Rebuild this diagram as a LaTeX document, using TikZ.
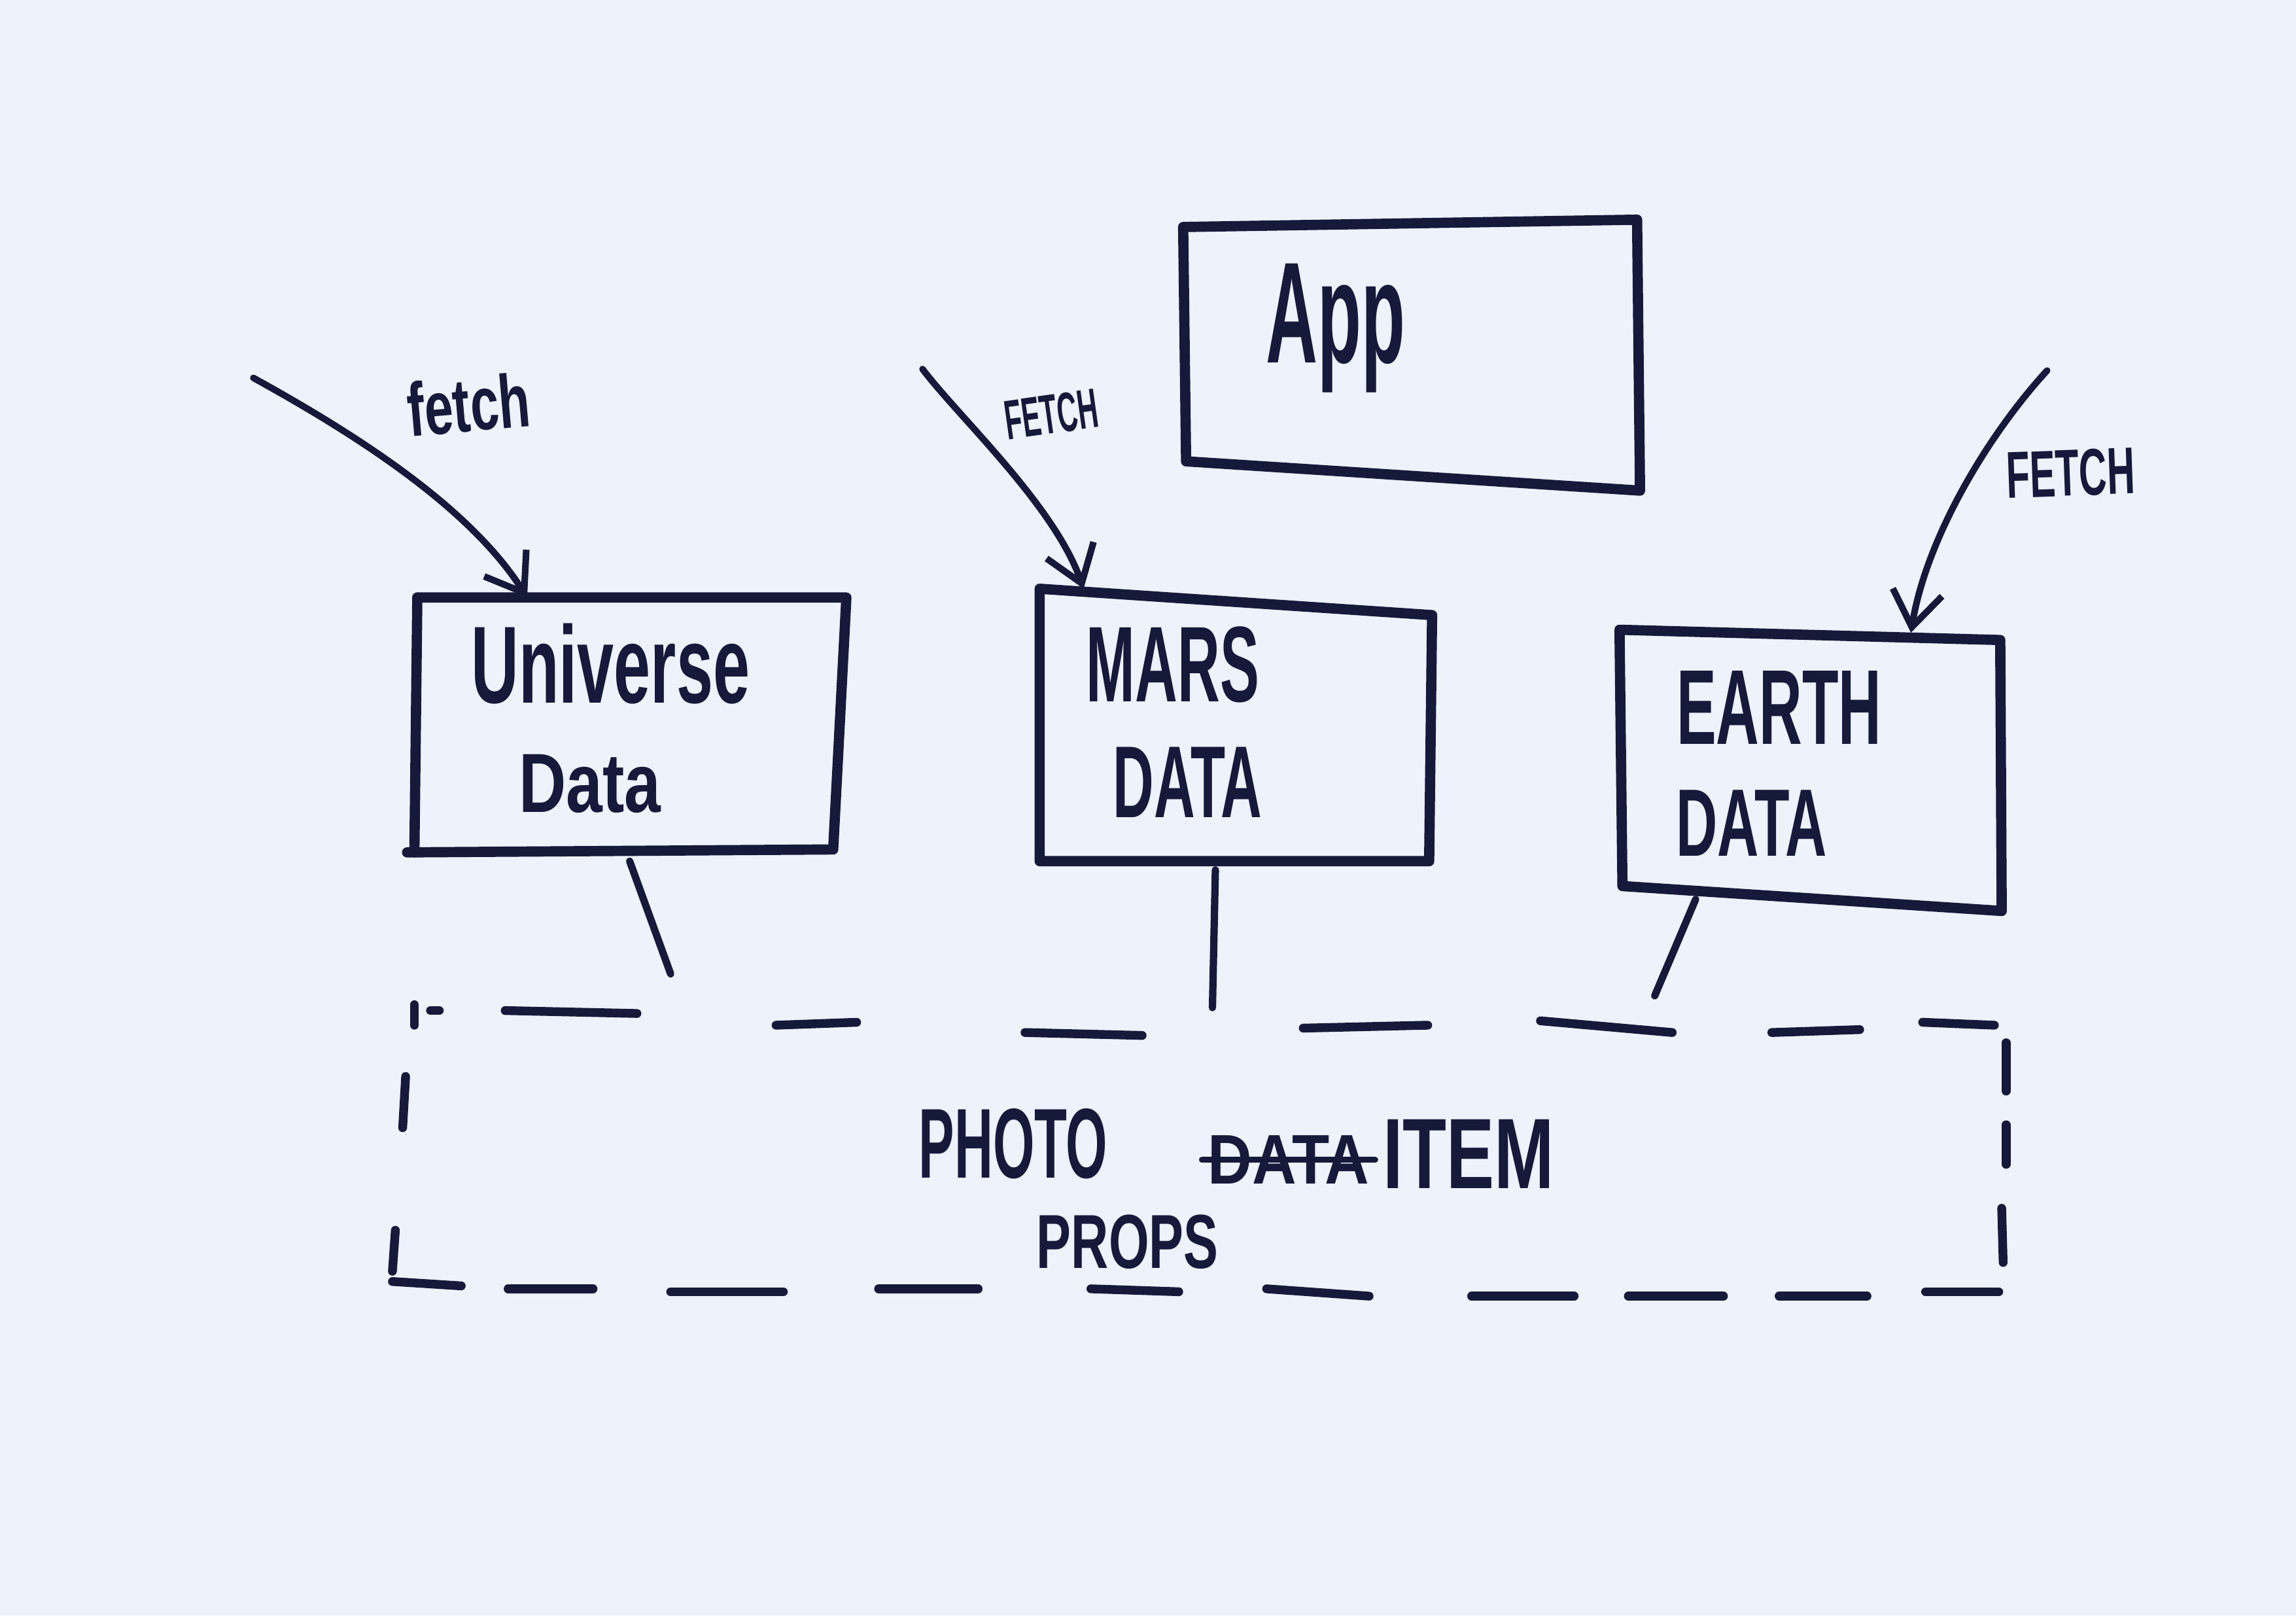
\documentclass[tikz,border=0pt]{standalone}
\usepackage{fontspec}
\setmainfont{Liberation Sans}
\usetikzlibrary{arrows.meta}
\definecolor{paper}{HTML}{ECF3FA}
\definecolor{ink}{HTML}{15193A}
\newcommand{\hwtext}[3]{\resizebox*{#1pt}{#2pt}{\bfseries #3}}
\begin{document}
\begin{tikzpicture}[x=1pt,y=-1pt,
  boxline/.style={draw=ink,line width=7pt,line cap=round,line join=round},
  fetcharrow/.style={draw=ink,line width=4.5pt,line cap=round,
    -{Straight Barb[length=24pt,width=34pt,line width=4.5pt]}},
  lbl/.style={inner sep=0pt,text=ink},
  conn/.style={draw=ink,line width=5pt,line cap=round},
  strike/.style={draw=ink,line width=4pt,line cap=round},
  dashseg/.style={draw=ink,line width=6pt,line cap=round}]
\fill[paper] (0,0) rectangle (1568,1103);
\useasboundingbox (0,0) rectangle (1568,1103);

% ---- boxes ----
\draw[boxline] (808,155) -- (1118,150) -- (1120,335) -- (810,315) -- cycle;
\draw[boxline] (285,408) -- (578,408) -- (569,580) -- (278,582);
\draw[boxline] (285,408) -- (283,582);
\draw[boxline] (710,402) -- (978,420) -- (976,588) -- (710,588) -- cycle;
\draw[boxline] (1106,430) -- (1366,437) -- (1367,622) -- (1108,605) -- cycle;

% ---- texts ----
\node[lbl] (app)    at (912,224) {\hwtext{95}{88}{App}};
\node[lbl] (uni1)   at (417,453) {\hwtext{190}{55}{Universe}};
\node[lbl] (uni2)   at (403,535) {\hwtext{97}{40}{Data}};
\node[lbl] (mars1)  at (801,454) {\hwtext{118}{52}{MARS}};
\node[lbl] (mars2)  at (811,534) {\hwtext{102}{48}{DATA}};
\node[lbl] (earth1) at (1215,483) {\hwtext{140}{50}{EARTH}};
\node[lbl] (earth2) at (1196,562) {\hwtext{103}{45}{DATA}};
\node[lbl,rotate=5]  (fl1) at (320,276) {\hwtext{84}{38}{fetch}};
\node[lbl,rotate=8]  (fl2) at (718,283) {\hwtext{64}{27}{FETCH}};
\node[lbl,rotate=2]  (fl3) at (1414,323) {\hwtext{88}{32}{FETCH}};
\node[lbl] (photo) at (692,781) {\hwtext{129}{48}{PHOTO}};
\node[lbl] (struck) at (880,792) {\hwtext{110}{33}{DATA}};
\node[lbl] (item)  at (1003,788) {\hwtext{117}{47}{ITEM}};
\node[lbl] (props) at (770,848) {\hwtext{124}{37}{PROPS}};
\draw[strike] ([xshift=-4pt]struck.west) -- ([xshift=4pt]struck.east);

% ---- fetch arrows ----
\coordinate (s1) at (173,258);
\coordinate (t1) at (360,408);
\coordinate (s2) at (630,252);
\coordinate (t2) at (740,402);
\coordinate (s3) at (1398,253);
\coordinate (t3) at (1305,432);
\draw[fetcharrow] (s1) .. controls (240,295) and (320,345) .. (t1);
\draw[fetcharrow] (s2) .. controls (655,285) and (720,345) .. (t2);
\draw[fetcharrow] (s3) .. controls (1355,300) and (1315,370) .. (t3);

% ---- connectors ----
\coordinate (ub) at (430,588);
\coordinate (ue) at (458,665);
\coordinate (mb) at (830,594);
\coordinate (me) at (828,688);
\coordinate (eb) at (1158,614);
\coordinate (ee) at (1130,680);
\draw[conn] (ub) -- (ue);
\draw[conn] (mb) -- (me);
\draw[conn] (eb) -- (ee);

% ---- dashed photo item box ----
\foreach \a/\b in {
  {(283,686)}/{(283,700)}, {(294,690)}/{(300,690)}, {(345,690)}/{(435,692)},
  {(530,700)}/{(585,698)}, {(700,705)}/{(780,707)}, {(890,702)}/{(975,700)},
  {(1052,697)}/{(1142,705)}, {(1210,705)}/{(1270,703)}, {(1313,698)}/{(1362,700)},
  {(1370,712)}/{(1370,745)}, {(1370,768)}/{(1370,795)}, {(1367,825)}/{(1368,862)},
  {(268,875)}/{(315,878)}, {(347,880)}/{(405,880)}, {(458,882)}/{(535,882)},
  {(600,880)}/{(668,880)}, {(745,880)}/{(805,882)}, {(865,880)}/{(935,885)},
  {(1005,885)}/{(1075,885)}, {(1112,885)}/{(1177,885)}, {(1215,885)}/{(1275,885)},
  {(1315,882)}/{(1365,882)},
  {(277,735)}/{(275,770)}, {(270,840)}/{(268,868)}}
  \draw[dashseg] \a -- \b;
\end{tikzpicture}
\end{document}
